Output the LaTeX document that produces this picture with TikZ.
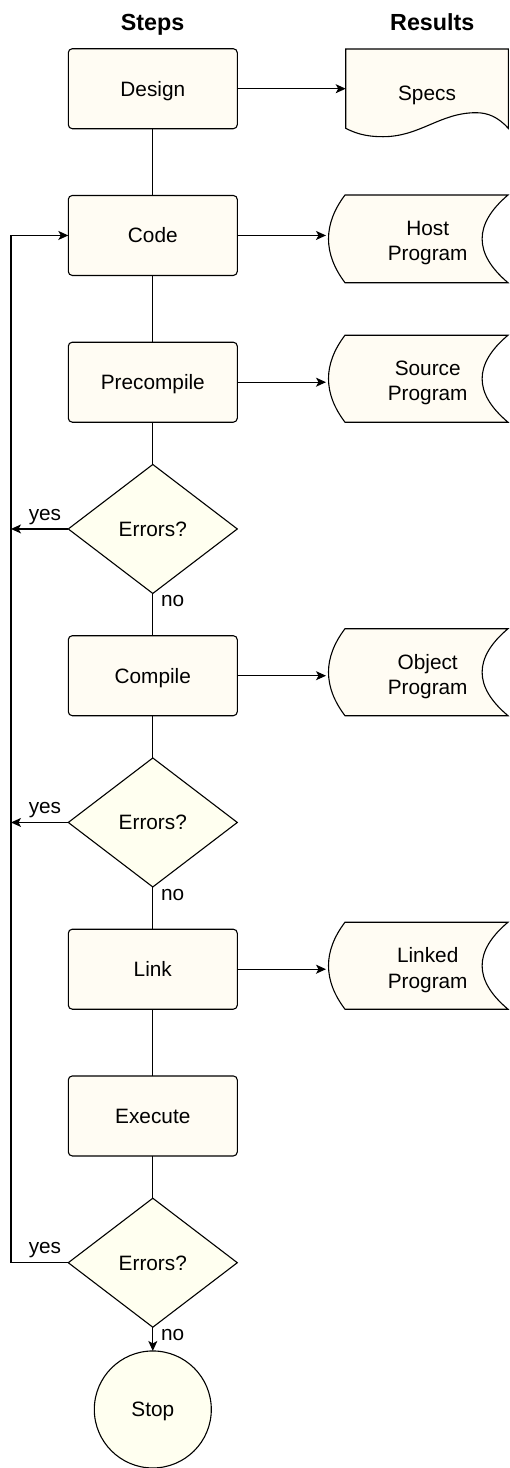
\documentclass[tikz,border=0pt]{standalone}
\usepackage{fontspec}
\setmainfont{Liberation Sans}
\usetikzlibrary{shapes.geometric,arrows.meta}
\definecolor{boxfill}{HTML}{FFFCF3}
\definecolor{decfill}{HTML}{FFFFF0}
\newcommand\bodyfont{\fontsize{20.8}{25.5}\selectfont}
\newcommand\headfont{\bfseries\fontsize{23.3}{28}\selectfont}
\newcommand\storeshape[2]{%
  \pgfmathsetmacro\sya{#1+(#2-#1)/3}%
  \pgfmathsetmacro\syb{#2-(#2-#1)/3}%
  \draw[shapeline, fill=boxfill] (345,#1) -- (508,#1)
    .. controls (473.5,\sya) and (473.5,\syb) .. (508,#2) -- (345,#2)
    .. controls (323,\syb) and (323,\sya) .. (345,#1) -- cycle;
}
\begin{document}
\begin{tikzpicture}[x=1pt,y=-1pt,
  shapeline/.style={draw=black, line width=1.1pt},
  conn/.style={draw=black, line width=1.1pt},
  arrow/.style={conn, -{Stealth[length=10pt,width=9pt,inset=2.5pt]}},
  stepbox/.style={shapeline, fill=boxfill, rounded corners=4pt, rectangle,
    minimum width=169pt, minimum height=80pt, inner sep=0pt, outer sep=0pt,
    font=\bodyfont, text height=14.9pt, text depth=0pt},
  decision/.style={shapeline, fill=decfill, diamond, aspect=1.31,
    minimum width=169pt, minimum height=129pt, inner sep=0pt, outer sep=0pt,
    font=\bodyfont, text height=14.9pt, text depth=0pt},
  stopnode/.style={shapeline, fill=decfill, circle, minimum size=117pt,
    inner sep=0pt, outer sep=0pt, font=\bodyfont, text height=14.9pt, text depth=0pt},
  storetext/.style={rectangle, minimum width=203.4pt, inner sep=0pt, outer sep=0pt,
    font=\bodyfont, align=center},
  doctext/.style={rectangle, minimum width=162.6pt, inner sep=0pt, outer sep=0pt,
    font=\bodyfont, text height=14.9pt, text depth=0pt},
  header/.style={font=\headfont, inner sep=0pt, text height=16.7pt, text depth=0pt},
  lbl/.style={font=\bodyfont, inner sep=0pt}
]
\useasboundingbox (0,0) rectangle (509,1468);

% headers
\node[header] (hsteps) at (152.5,22.3) {Steps};
\node[header] (hresults) at (432.3,22.3) {Results};

% step column
\node[stepbox] (design) at (152.8,88.7) {Design};
\node[stepbox] (code) at (152.8,235.45) {Code};
\node[stepbox] (precompile) at (152.8,382.2) {Precompile};
\node[decision] (d1) at (152.8,528.95) {Errors?};
\node[stepbox] (compile) at (152.8,675.7) {Compile};
\node[decision] (d2) at (152.8,822.45) {Errors?};
\node[stepbox] (link) at (152.8,969.2) {Link};
\node[stepbox] (execute) at (152.8,1115.95) {Execute};
\node[decision] (d3) at (152.8,1262.7) {Errors?};
\node[stopnode] (stop) at (152.8,1409.45) {Stop};

% results column
\draw[shapeline, fill=boxfill] (345.7,49) -- (508.3,49) -- (508.3,128.3)
  .. controls (498,117) and (488,112.7) .. (476,112.7)
  .. controls (440,112.7) and (420,136.7) .. (383,136.7)
  .. controls (365,136.7) and (355,133) .. (345.7,128.3) -- cycle;
\node[doctext] (specs) at (427,92.8) {Specs};

\storeshape{195}{282.7}
\node[storetext] (host) at (427.7,243.2) {Host\\Program};
\storeshape{335.2}{422.2}
\node[storetext] (source) at (427.7,383) {Source\\Program};
\storeshape{628.7}{715.7}
\node[storetext] (object) at (427.7,676.5) {Object\\Program};
\storeshape{922.2}{1009.2}
\node[storetext] (linked) at (427.7,970) {Linked\\Program};

% loop coordinates
\coordinate (loopT) at (11,235.45);
\coordinate (loopB) at (11,1262.7);

% vertical flow
\draw[conn] (design.south) -- (code.north);
\draw[conn] (code.south) -- (precompile.north);
\draw[conn] (precompile.south) -- (d1.north);
\draw[conn] (d1.south) -- node[lbl, pos=0, anchor=base west, xshift=7.8pt, yshift=-13.4pt] {no} (compile.north);
\draw[conn] (compile.south) -- (d2.north);
\draw[conn] (d2.south) -- node[lbl, pos=0, anchor=base west, xshift=7.8pt, yshift=-13.4pt] {no} (link.north);
\draw[conn] (link.south) -- (execute.north);
\draw[conn] (execute.south) -- (d3.north);
\draw[arrow] (d3.south) -- node[lbl, pos=0, anchor=base west, xshift=7.8pt, yshift=-13.4pt] {no} (stop.north);

% yes branches
\draw[arrow] (d1.west) -- node[lbl, pos=0, anchor=base east, xshift=-6.6pt, yshift=8.5pt] {yes} (d1.west -| loopT);
\draw[arrow] (d2.west) -- node[lbl, pos=0, anchor=base east, xshift=-6.6pt, yshift=8.5pt] {yes} (d2.west -| loopT);
\draw[arrow] (d3.west) -- node[lbl, pos=0, anchor=base east, xshift=-6.6pt, yshift=9pt] {yes} (loopB) -- (loopT) -- (code.west);

% result arrows
\draw[arrow] (design.east) -- (design.east -| specs.west);
\draw[arrow] (code.east) -- (code.east -| host.west);
\draw[arrow] (precompile.east) -- (precompile.east -| source.west);
\draw[arrow] (compile.east) -- (compile.east -| object.west);
\draw[arrow] (link.east) -- (link.east -| linked.west);
\end{tikzpicture}
\end{document}
